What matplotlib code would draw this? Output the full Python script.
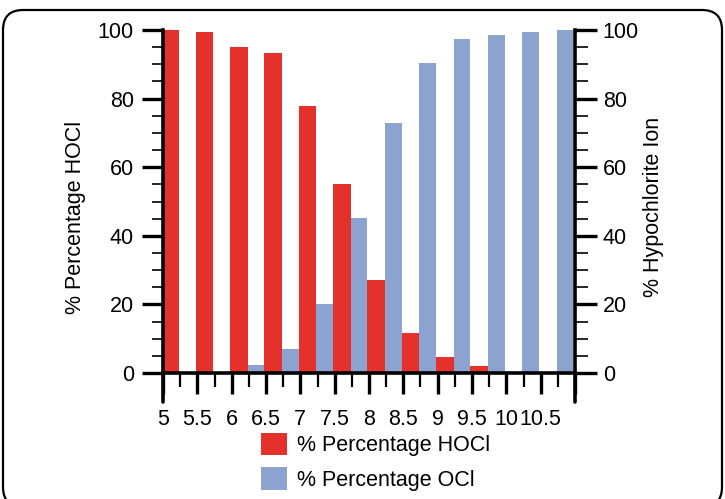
import matplotlib
matplotlib.use("Agg")
import matplotlib.pyplot as plt
from matplotlib.patches import FancyBboxPatch, Patch
from matplotlib.transforms import IdentityTransform
import numpy as np

plt.rcParams['font.family'] = ['Liberation Sans', 'DejaVu Sans']

ph_labels = ["5", "5.5", "6", "6.5", "7", "7.5", "8", "8.5", "9", "9.5", "10", "10.5"]
hocl = [100, 99.3, 95.0, 93.2, 77.8, 55.1, 27.1, 11.7, 4.7, 2.0, 0, 0]
ocl = [0, 0, 2.3, 7.0, 20.1, 45.1, 72.8, 90.3, 97.3, 98.5, 99.3, 100]

red = "#E5312B"
blue = "#8BA3CE"
FS = 15.5

fig = plt.figure(figsize=(7.25, 4.99), dpi=100)
ax = fig.add_axes([163/725, 1-373/499, (575-163)/725, (373-30)/499])
ax2 = ax.twinx()

x = np.arange(len(ph_labels))
ax.bar(x - 0.05, hocl, width=0.52, align='edge', color=red, zorder=1)
ax.bar(x + 0.47, ocl, width=0.48, align='edge', color=blue, zorder=1)

ax.set_xlim(0, 12)
ax.set_ylim(0, 100)
ax2.set_ylim(0, 100)

for a in (ax, ax2):
    a.spines['top'].set_visible(False)
    for s in ('left', 'right', 'bottom'):
        a.spines[s].set_linewidth(2.6)
    a.set_yticks(np.arange(0, 101, 20))
    a.set_yticks(np.arange(0, 101, 5), minor=True)

ax.spines['right'].set_visible(False)
ax2.spines['left'].set_visible(False)
ax2.spines['bottom'].set_visible(False)

ax.set_xticks(np.arange(0, 13))
ax.set_xticklabels(ph_labels + [""])
ax.set_xticks(np.arange(0.5, 12, 1), minor=True)

ax.tick_params(axis='y', which='major', direction='out', length=15, width=2.4,
               labelsize=FS, pad=6)
ax.tick_params(axis='y', which='minor', direction='out', length=8, width=1.2)
ax2.tick_params(axis='y', which='major', direction='out', length=16, width=2.4,
                labelsize=FS, pad=4)
ax2.tick_params(axis='y', which='minor', direction='out', length=9, width=1.2)
ax.tick_params(axis='x', which='major', direction='out', length=15, width=2.4,
               labelsize=FS, pad=11)
ax.tick_params(axis='x', which='minor', direction='out', length=10, width=1.6)

# longer end ticks on the x axis
for xe in (0, 12):
    ax.plot([xe, xe], [0, -0.085], transform=ax.get_xaxis_transform(),
            color='black', lw=2.6, clip_on=False, solid_capstyle='round')

fig.text(76/725, 1-217/499, "% Percentage HOCl", rotation=90, fontsize=FS,
         ha='center', va='center')
fig.text(653/725, 1-207/499, "% Hypochlorite Ion", rotation=90, fontsize=FS,
         ha='center', va='center')

handles = [Patch(facecolor=red, edgecolor='none'), Patch(facecolor=blue, edgecolor='none')]
leg = fig.legend(handles, ["% Percentage HOCl", "% Percentage OCl"],
                 loc='upper left', bbox_to_anchor=(261/725, 1-433/499),
                 frameon=False, fontsize=FS, handlelength=1.2, handleheight=1.2,
                 handletextpad=0.48, labelspacing=0.52, borderpad=0, borderaxespad=0)

box = FancyBboxPatch((3, -8), 719, 497, boxstyle="round,pad=0,rounding_size=20",
                     transform=IdentityTransform(), facecolor='none',
                     edgecolor='black', lw=1.6)
fig.patches.append(box)

fig.savefig("out.png", dpi=100)
